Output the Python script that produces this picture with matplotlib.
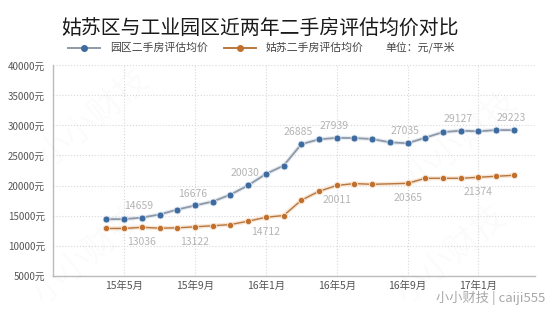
import numpy as np
import pandas as pd
import matplotlib
matplotlib.use('Agg')
import matplotlib.pyplot as plt
import matplotlib.patheffects as pe

plt.rcParams['font.family'] = ['Noto Sans CJK SC', 'DejaVu Sans']

# monthly appraisal prices, 2015-04 .. 2017-03 (元/平米)
months = ['2015-04', '2015-05', '2015-06', '2015-07', '2015-08', '2015-09',
          '2015-10', '2015-11', '2015-12', '2016-01', '2016-02', '2016-03',
          '2016-04', '2016-05', '2016-06', '2016-07', '2016-08', '2016-09',
          '2016-10', '2016-11', '2016-12', '2017-01', '2017-02', '2017-03']
yuanqu = [14400, 14400, 14659, 15170, 16000, 16676, 17330, 18490, 20030, 21930,
          23310, 26885, 27690, 27939, 27900, 27740, 27190, 27035, 27960, 28900,
          29127, 29020, 29240, 29223]
gusu = [12850, 12850, 13036, 12900, 12950, 13122, 13300, 13500, 14060, 14712,
        15000, 17550, 19040, 20011, 20320, 20200, np.nan, 20365, 21200, 21200,
        21200, 21374, 21540, 21700]

# which points carry a value label
yuanqu_labels = ['2015-06', '2015-09', '2015-12', '2016-03', '2016-05', '2016-09', '2016-12', '2017-03']
gusu_labels = ['2015-06', '2015-09', '2016-01', '2016-05', '2016-09', '2017-01']

tick_months = ['2015-05', '2015-09', '2016-01', '2016-05', '2016-09', '2017-01']
tick_labels = ['15年5月', '15年9月', '16年1月', '16年5月', '16年9月', '17年1月']

df = pd.DataFrame({'month': months, 'yuanqu': yuanqu, 'gusu': gusu})
df['x'] = np.arange(len(df))
pos = dict(zip(df['month'], df['x']))

BLUE = '#3d6a9f'
BLUE_LINE = '#8f99a6'
ORANGE = '#c0702c'
ORANGE_LINE = '#b8773f'

fig = plt.figure(figsize=(5.5, 3.1), dpi=100)
ax = fig.add_axes([0.097, 0.111, 0.876, 0.678])

# faint watermarks
for wx, wy in [(0.17, 0.62), (0.16, 0.18), (0.84, 0.55), (0.82, 0.18)]:
    fig.text(wx, wy, '小小财技', fontsize=24, color='#000000', alpha=0.02,
             rotation=40, ha='center', va='center')

b = df.dropna(subset=['yuanqu'])
ax.plot(b['x'], b['yuanqu'], color=BLUE_LINE, lw=1.3, zorder=3,
        path_effects=[pe.Stroke(linewidth=3, foreground='#e6ecf4'), pe.Normal()])
ax.plot(b['x'], b['yuanqu'], 'o', color=BLUE, ms=5, zorder=4, mec='#e6ecf4', mew=0.6)

g = df.dropna(subset=['gusu'])
ax.plot(g['x'], g['gusu'], color=ORANGE_LINE, lw=1.0, zorder=3,
        path_effects=[pe.Stroke(linewidth=3, foreground='#f7e6d6'), pe.Normal()])
ax.plot(g['x'], g['gusu'], 'o', color=ORANGE, ms=4.5, zorder=4, mec='#f7e6d6', mew=0.6)

for m in yuanqu_labels:
    v = df.loc[df['month'] == m, 'yuanqu'].iloc[0]
    ax.annotate(f'{v:.0f}', (pos[m], v), xytext=(-2, 5), textcoords='offset points',
                ha='center', va='bottom', fontsize=7.5, color='#b4b4b4')
for m in gusu_labels:
    v = df.loc[df['month'] == m, 'gusu'].iloc[0]
    ax.annotate(f'{v:.0f}', (pos[m], v), xytext=(0, -7), textcoords='offset points',
                ha='center', va='top', fontsize=7.5, color='#b4b4b4')

ax.set_xlim(-3, 24.2)
ax.set_ylim(5000, 40000)
ax.set_yticks(np.arange(5000, 40001, 5000))
ax.set_yticklabels([f'{v}元' for v in range(5000, 40001, 5000)], fontsize=7, color='#555555')
ax.set_xticks([pos[m] for m in tick_months])
ax.set_xticklabels(tick_labels, fontsize=7.5, color='#555555')
ax.tick_params(length=0, pad=6)
ax.tick_params(axis='x', pad=4)
ax.grid(True, color='#d8d8d8', ls=':', lw=0.8)
ax.set_axisbelow(True)
for s in ['top', 'right']:
    ax.spines[s].set_visible(False)
for s in ['left', 'bottom']:
    ax.spines[s].set_color('#bbbbbb')
    ax.spines[s].set_linewidth(1.0)

fig.text(0.473, 0.91, '姑苏区与工业园区近两年二手房评估均价对比', fontsize=14.3,
         fontweight='medium', color='#1a1a1a', ha='center', va='center')

# legend row
ly = 1 - 47.5 / 310
for x0, x1, col, lcol, label in [(68, 100, BLUE, BLUE_LINE, '园区二手房评估均价'),
                                  (224, 256, ORANGE, ORANGE_LINE, '姑苏二手房评估均价')]:
    fig.add_artist(plt.Line2D([x0 / 550, x1 / 550], [ly, ly], color=lcol, lw=1.4))
    fig.add_artist(plt.Line2D([(x0 + x1) / 1100], [ly], marker='o', color=col, ms=4))
    fig.text((x1 + 10) / 550, ly, label, fontsize=7.8, color='#444444', va='center')
fig.text(385 / 550, ly, '单位：元/平米', fontsize=7.8, color='#444444', va='center')

fig.text(545 / 550, 1 - 298 / 310, '小小财技 | caiji555', fontsize=9.5, color='#a8a8a8',
         ha='right', va='center', fontweight='light')

fig.savefig('out.png', dpi=100, facecolor='white')
